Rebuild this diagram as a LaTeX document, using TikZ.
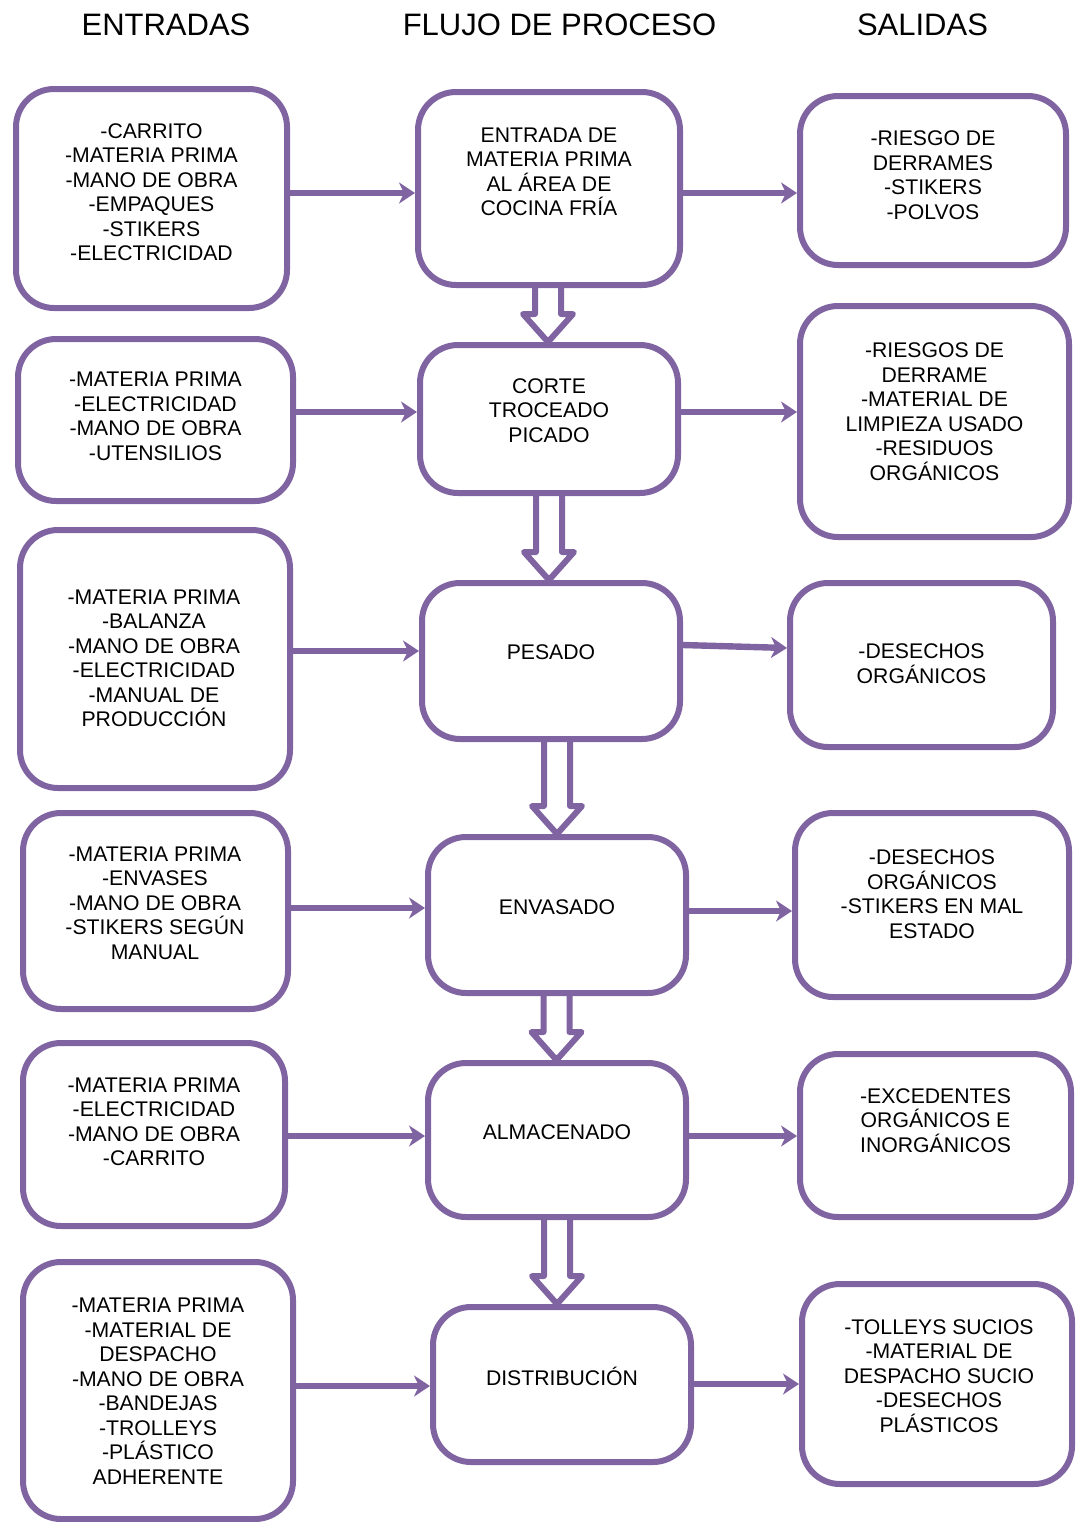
\documentclass[tikz,border=0pt]{standalone}
\usepackage{fontspec}
\setmainfont{Liberation Sans}
\usepackage{tikz}
\usetikzlibrary{arrows.meta, calc, positioning}
\definecolor{morado}{RGB}{128,100,162}
\tikzset{
  caja/.style={draw=morado, line width=3pt, rounded corners=19pt, inner sep=0pt},
  texto/.style={align=center, inner sep=0pt, font=\fontsize{10.6}{12.25}\selectfont},
  titulo/.style={inner sep=0pt, font=\fontsize{15.5}{18}\selectfont},
  flecha/.style={draw=morado, line width=3.2pt, -{Stealth[length=8pt, width=10.5pt, inset=2.5pt]}},
  hueca/.style={draw=morado, line width=3pt, line join=round}
}
\newcommand{\bajar}[3]{%
  \draw[hueca] let \p1=(#2.south), \p2=(#3.north), \p3=(#1,0) in
    (\x3-6.5pt,\y1) -- (\x3-6.5pt,\y2+14pt) -- (\x3-12.5pt,\y2+14pt) -- (\x3,\y2)
    -- (\x3+12.5pt,\y2+14pt) -- (\x3+6.5pt,\y2+14pt) -- (\x3+6.5pt,\y1);
}
\begin{document}
\begin{tikzpicture}[x=0.5pt, y=-0.5pt]
  \useasboundingbox (0,0) rectangle (1077,1522);
  \node[titulo] (tent) at (166,25) {ENTRADAS};
  \node[titulo] (tflu) at (559.5,25) {FLUJO DE PROCESO};
  \node[titulo] (tsal) at (922.5,25) {SALIDAS};

  \node[caja, minimum width=135.5pt, minimum height=109.5pt] (l1) at (151.5,198.5) {};
  \node[caja, minimum width=137.5pt, minimum height=81pt] (l2) at (155.5,420) {};
  \node[caja, minimum width=135pt, minimum height=129pt] (l3) at (155,659) {};
  \node[caja, minimum width=132.5pt, minimum height=98pt] (l4) at (155.5,911) {};
  \node[caja, minimum width=131pt, minimum height=91.5pt] (l5) at (154,1134.5) {};
  \node[caja, minimum width=135pt, minimum height=128.5pt] (l6) at (158,1390.5) {};

  \node[caja, minimum width=131pt, minimum height=96.5pt] (m1) at (549,188.5) {};
  \node[caja, minimum width=129pt, minimum height=74pt] (m2) at (549,419) {};
  \node[caja, minimum width=129pt, minimum height=78pt] (m3) at (551,661) {};
  \node[caja, minimum width=129pt, minimum height=78pt] (m4) at (557,915) {};
  \node[caja, minimum width=129pt, minimum height=77pt] (m5) at (557,1140) {};
  \node[caja, minimum width=129pt, minimum height=77.5pt] (m6) at (562,1384.5) {};

  \node[caja, minimum width=133pt, minimum height=84.5pt] (r1) at (933,180.5) {};
  \node[caja, minimum width=134.5pt, minimum height=115.5pt] (r2) at (934.5,421.5) {};
  \node[caja, minimum width=131.5pt, minimum height=82pt] (r3) at (921.5,665) {};
  \node[caja, minimum width=137pt, minimum height=92pt] (r4) at (932,905) {};
  \node[caja, minimum width=135.5pt, minimum height=81.5pt] (r5) at (935.5,1135.5) {};
  \node[caja, minimum width=135pt, minimum height=100pt] (r6) at (937,1384) {};

  \node[texto] (l1t) at (151.5,192) {-CARRITO\\-MATERIA PRIMA\\-MANO DE OBRA\\-EMPAQUES\\-STIKERS\\-ELECTRICIDAD};
  \node[texto] (l2t) at (155.5,416.5) {-MATERIA PRIMA\\-ELECTRICIDAD\\-MANO DE OBRA\\-UTENSILIOS};
  \node[texto] (l3t) at (154,658.5) {-MATERIA PRIMA\\-BALANZA\\-MANO DE OBRA\\-ELECTRICIDAD\\-MANUAL DE\\PRODUCCIÓN};
  \node[texto] (l4t) at (155,903) {-MATERIA PRIMA\\-ENVASES\\-MANO DE OBRA\\-STIKERS SEGÚN\\MANUAL};
  \node[texto] (l5t) at (154,1122) {-MATERIA PRIMA\\-ELECTRICIDAD\\-MANO DE OBRA\\-CARRITO};
  \node[texto] (l6t) at (158,1391) {-MATERIA PRIMA\\-MATERIAL DE\\DESPACHO\\-MANO DE OBRA\\-BANDEJAS\\-TROLLEYS\\-PLÁSTICO\\ADHERENTE};

  \node[texto] (m1t) at (549,172) {ENTRADA DE\\MATERIA PRIMA\\AL ÁREA DE\\COCINA FRÍA};
  \node[texto] (m2t) at (549,410.5) {CORTE\\TROCEADO\\PICADO};
  \node[texto] (m3t) at (551,652) {PESADO};
  \node[texto] (m4t) at (557,907) {ENVASADO};
  \node[texto] (m5t) at (557,1132) {ALMACENADO};
  \node[texto] (m6t) at (562,1376) {DISTRIBUCIÓN};

  \node[texto] (r1t) at (933,175) {-RIESGO DE\\DERRAMES\\-STIKERS\\-POLVOS};
  \node[texto] (r2t) at (934.5,411.5) {-RIESGOS DE\\DERRAME\\-MATERIAL DE\\LIMPIEZA USADO\\-RESIDUOS\\ORGÁNICOS};
  \node[texto] (r3t) at (921.5,663.5) {-DESECHOS\\ORGÁNICOS};
  \node[texto] (r4t) at (932,894) {-DESECHOS\\ORGÁNICOS\\-STIKERS EN MAL\\ESTADO};
  \node[texto] (r5t) at (935.5,1120.5) {-EXCEDENTES\\ORGÁNICOS E\\INORGÁNICOS};
  \node[texto] (r6t) at (939,1376) {-TOLLEYS SUCIOS\\-MATERIAL DE\\DESPACHO SUCIO\\-DESECHOS\\PLÁSTICOS};

  \draw[flecha] (l1.east |- 0,193) -- (m1.west |- 0,193);
  \draw[flecha] (l2.east |- 0,412) -- (m2.west |- 0,412);
  \draw[flecha] (l3.east |- 0,651) -- (m3.west |- 0,651);
  \draw[flecha] (l4.east |- 0,908) -- (m4.west |- 0,908);
  \draw[flecha] (l5.east |- 0,1136) -- (m5.west |- 0,1136);
  \draw[flecha] (l6.east |- 0,1386) -- (m6.west |- 0,1386);

  \draw[flecha] (m1.east |- 0,193) -- (r1.west |- 0,193);
  \draw[flecha] (m2.east |- 0,412) -- (r2.west |- 0,412);
  \draw[flecha] (m3.east |- 0,645) -- (r3.west |- 0,648);
  \draw[flecha] (m4.east |- 0,911) -- (r4.west |- 0,911);
  \draw[flecha] (m5.east |- 0,1136) -- (r5.west |- 0,1136);
  \draw[flecha] (m6.east |- 0,1384) -- (r6.west |- 0,1384);

  \bajar{548}{m1}{m2}
  \bajar{549}{m2}{m3}
  \bajar{557}{m3}{m4}
  \bajar{556.5}{m4}{m5}
  \bajar{557}{m5}{m6}
\end{tikzpicture}
\end{document}
